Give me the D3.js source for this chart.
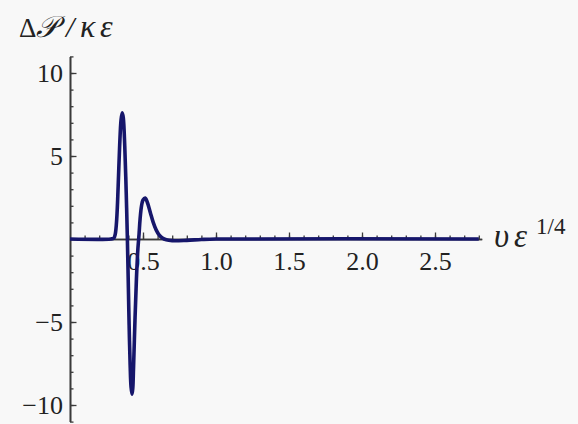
<!DOCTYPE html>
<html>
<head>
<meta charset="utf-8">
<script src="https://cdn.jsdelivr.net/npm/d3@7"></script>
</head>
<body style="margin:0;background:#f8f8f8">
<div id="chart"></div>
<script>
// values
const vX = [0, 0.28, 0.30, 0.31, 0.32, 0.33, 0.34, 0.35, 0.358, 0.365, 0.375, 0.385, 0.393,
  0.40, 0.405, 0.412, 0.418, 0.425, 0.43, 0.435, 0.445, 0.455, 0.465, 0.473, 0.48, 0.49,
  0.50, 0.515, 0.53, 0.55, 0.57, 0.59, 0.61, 0.63, 0.66, 0.70, 0.80, 0.90, 1.0, 2.8];
const dP = [0, 0, 0.05, 0.3, 1.2, 3.2, 5.6, 7.2, 7.6, 7.3, 5.6, 2.8, 0,
  -3.0, -5.2, -7.6, -8.9, -9.35, -9.0, -7.8, -4.9, -2.4, -0.6, 0.3, 1.2, 2.0,
  2.35, 2.47, 2.2, 1.6, 1.0, 0.55, 0.25, 0.08, -0.05, -0.1, -0.08, -0.03, 0, 0];

const xMajor = [0.5, 1.0, 1.5, 2.0, 2.5];
const yMajor = [-10, -5, 5, 10];

const width = 578, height = 424;
const fontFam = 'Liberation Serif';

const svg = d3.select('#chart').append('svg')
  .attr('width', width)
  .attr('height', height)
  .style('display', 'block');

svg.append('rect')
  .attr('width', width)
  .attr('height', height)
  .attr('fill', '#f8f8f8');

const x = d3.scaleLinear().domain([0, 2.82]).range([70, 70 + 2.82 * 146]);
const y = d3.scaleLinear().domain([-11, 11]).range([239 + 11 * 16.6, 239 - 11 * 16.6]);

const axisColor = '#3a3a3a';

function styleAxis(g) {
  g.select('.domain').attr('stroke', axisColor).attr('stroke-width', 1.6);
  g.selectAll('.tick line').attr('stroke', axisColor).attr('stroke-width', 1.3);
  g.selectAll('.tick text').attr('fill', '#222')
    .attr('font-family', fontFam).attr('font-size', 26);
}

// x axis: minor, then major with labels
svg.append('g')
  .attr('transform', `translate(0,${y(0)})`)
  .call(d3.axisBottom(x).tickValues(d3.range(1, 29).map(i => i / 10))
    .tickSizeInner(-3.5).tickSizeOuter(0).tickFormat(''))
  .call(styleAxis);
svg.append('g')
  .attr('transform', `translate(0,${y(0)})`)
  .call(d3.axisBottom(x).tickValues(xMajor)
    .tickSizeInner(-6.5).tickSizeOuter(0).tickPadding(13).tickFormat(d3.format('.1f')))
  .call(styleAxis);

// y axis
svg.append('g')
  .attr('transform', `translate(${x(0)},0)`)
  .call(d3.axisLeft(y).tickValues(d3.range(-11, 12).filter(d => d !== 0))
    .tickSizeInner(-3.5).tickSizeOuter(0).tickFormat(''))
  .call(styleAxis);
svg.append('g')
  .attr('transform', `translate(${x(0)},0)`)
  .call(d3.axisLeft(y).tickValues(yMajor)
    .tickSizeInner(-6.5).tickSizeOuter(0).tickPadding(7).tickFormat(d3.format('d')))
  .call(styleAxis);

// curve
const line = d3.line()
  .x((d, i) => x(vX[i]))
  .y(d => y(d))
  .curve(d3.curveCatmullRom.alpha(0.5));

svg.append('path')
  .datum(dP)
  .attr('fill', 'none')
  .attr('stroke', '#16166b')
  .attr('stroke-width', 3.6)
  .attr('stroke-linejoin', 'round')
  .attr('d', line);

// axis labels
const yLab = svg.append('text')
  .attr('y', 37)
  .attr('fill', '#222')
  .attr('font-family', fontFam)
  .attr('font-size', 27);
yLab.append('tspan').attr('x', 19).text('Δ');
yLab.append('tspan').attr('x', 36).attr('font-style', 'italic').attr('font-size', 30).text('𝒫');
yLab.append('tspan').attr('x', 66).attr('font-style', 'italic').attr('font-size', 30).text('/');
yLab.append('tspan').attr('x', 80).attr('font-style', 'italic').attr('font-size', 32).text('κ');
yLab.append('tspan').attr('x', 100).attr('font-style', 'italic').attr('font-size', 32).text('ε');

const xLab = svg.append('text')
  .attr('y', 247)
  .attr('fill', '#222')
  .attr('font-family', fontFam)
  .attr('font-size', 33)
  .attr('font-style', 'italic');
xLab.append('tspan').attr('x', 494).text('υ');
xLab.append('tspan').attr('x', 514).text('ε');
svg.append('text')
  .attr('x', 536)
  .attr('y', 234)
  .attr('fill', '#222')
  .attr('font-family', fontFam)
  .attr('font-size', 23)
  .text('1/4');
</script>
</body>
</html>
